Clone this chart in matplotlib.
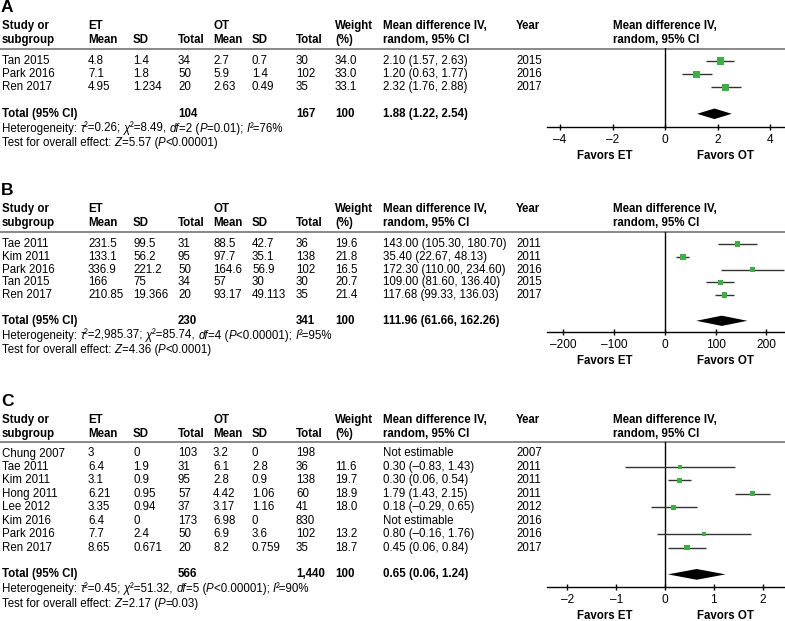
import numpy as np
import matplotlib
matplotlib.use("Agg")
import matplotlib.pyplot as plt

plt.rcParams["font.family"] = ["Liberation Sans", "DejaVu Sans"]

W, H = 785, 621
FS = 8.3
FS_B = 8.3
FS_TICK = 8.6
GREEN = "#3cb043"
DASH = "\u2013"

# ---- panel A ----
A_STUDY = ["Tan 2015", "Park 2016", "Ren 2017"]
A_ET_MEAN = ["4.8", "7.1", "4.95"]
A_ET_SD = ["1.4", "1.8", "1.234"]
A_ET_N = ["34", "50", "20"]
A_OT_MEAN = ["2.7", "5.9", "2.63"]
A_OT_SD = ["0.7", "1.4", "0.49"]
A_OT_N = ["30", "102", "35"]
A_WEIGHT = [34.0, 33.0, 33.1]
A_MD = [2.10, 1.20, 2.32]
A_LO = [1.57, 0.63, 1.76]
A_HI = [2.63, 1.77, 2.88]
A_YEAR = ["2015", "2016", "2017"]
A_TOTALS = ["104", "167", "100"]
A_POOLED = [1.88, 1.22, 2.54]
# *...* marks italic runs
A_HET = "Heterogeneity: *τ*²=0.26; *χ*²=8.49, *df*=2 (*P*=0.01); *I*²=76%"
A_TEST = "Test for overall effect: *Z*=5.57 (*P*<0.00001)"
A_TICKS = [-4, -2, 0, 2, 4]

# ---- panel B ----
B_STUDY = ["Tae 2011", "Kim 2011", "Park 2016", "Tan 2015", "Ren 2017"]
B_ET_MEAN = ["231.5", "133.1", "336.9", "166", "210.85"]
B_ET_SD = ["99.5", "56.2", "221.2", "75", "19.366"]
B_ET_N = ["31", "95", "50", "34", "20"]
B_OT_MEAN = ["88.5", "97.7", "164.6", "57", "93.17"]
B_OT_SD = ["42.7", "35.1", "56.9", "30", "49.113"]
B_OT_N = ["36", "138", "102", "30", "35"]
B_WEIGHT = [19.6, 21.8, 16.5, 20.7, 21.4]
B_MD = [143.00, 35.40, 172.30, 109.00, 117.68]
B_LO = [105.30, 22.67, 110.00, 81.60, 99.33]
B_HI = [180.70, 48.13, 234.60, 136.40, 136.03]
B_YEAR = ["2011", "2011", "2016", "2015", "2017"]
B_TOTALS = ["230", "341", "100"]
B_POOLED = [111.96, 61.66, 162.26]
B_HET = "Heterogeneity: *τ*²=2,985.37; *χ*²=85.74, *df*=4 (*P*<0.00001); *I*²=95%"
B_TEST = "Test for overall effect: *Z*=4.36 (*P*<0.0001)"
B_TICKS = [-200, -100, 0, 100, 200]

# ---- panel C ----
C_STUDY = ["Chung 2007", "Tae 2011", "Kim 2011", "Hong 2011", "Lee 2012",
           "Kim 2016", "Park 2016", "Ren 2017"]
C_ET_MEAN = ["3", "6.4", "3.1", "6.21", "3.35", "6.4", "7.7", "8.65"]
C_ET_SD = ["0", "1.9", "0.9", "0.95", "0.94", "0", "2.4", "0.671"]
C_ET_N = ["103", "31", "95", "57", "37", "173", "50", "20"]
C_OT_MEAN = ["3.2", "6.1", "2.8", "4.42", "3.17", "6.98", "6.9", "8.2"]
C_OT_SD = ["0", "2.8", "0.9", "1.06", "1.16", "0", "3.6", "0.759"]
C_OT_N = ["198", "36", "138", "60", "41", "830", "102", "35"]
C_WEIGHT = [np.nan, 11.6, 19.7, 18.9, 18.0, np.nan, 13.2, 18.7]
C_MD = [np.nan, 0.30, 0.30, 1.79, 0.18, np.nan, 0.80, 0.45]
C_LO = [np.nan, -0.83, 0.06, 1.43, -0.29, np.nan, -0.16, 0.06]
C_HI = [np.nan, 1.43, 0.54, 2.15, 0.65, np.nan, 1.76, 0.84]
C_YEAR = ["2007", "2011", "2011", "2011", "2012", "2016", "2016", "2017"]
C_TOTALS = ["566", "1,440", "100"]
C_POOLED = [0.65, 0.06, 1.24]
C_HET = "Heterogeneity: *τ*²=0.45; *χ*²=51.32, *df*=5 (*P*<0.00001); *I*²=90%"
C_TEST = "Test for overall effect: *Z*=2.17 (*P*=0.03)"
C_TICKS = [-2, -1, 0, 1, 2]

# column left edges (px)
COL_X = [2, 88, 133, 178, 213, 252, 296, 335, 383, 516]
FOREST_HDR_X = 613
FOREST_L, FOREST_R = 547, 785
HDR1 = ["Study or", "ET", "", "", "OT", "", "", "Weight", "Mean difference IV,", "Year"]
HDR2 = ["subgroup", "Mean", "SD", "Total", "Mean", "SD", "Total", "(%)", "random, 95% CI", ""]


def fmt(v):
    return f"{v:.2f}".replace("-", DASH)


def ci_text(m, lo, hi):
    if np.isnan(m):
        return "Not estimable"
    return f"{fmt(m)} ({fmt(lo)}, {fmt(hi)})"


fig = plt.figure(figsize=(W / 100, H / 100), dpi=100)
renderer = fig.canvas.get_renderer()
tx = fig.add_axes([0, 0, 1, 1])
tx.set_xlim(0, W)
tx.set_ylim(H, 0)
tx.axis("off")


def rich(x, y, s):
    # text with italic runs, drawn piece by piece (1 data unit == 1 px here)
    for k, part in enumerate(s.split("*")):
        if not part:
            continue
        t = tx.text(x, y, part, fontsize=FS, va="center",
                    style="italic" if k % 2 else "normal")
        x += t.get_window_extent(renderer).width


def panel(letter, lay, study, et_mean, et_sd, et_n, ot_mean, ot_sd, ot_n,
          weight, md, lo, hi, year, totals, pooled, het, test, ticks):
    line_y, row0, sp, axis_y, xlim = lay
    n = len(study)
    tx.text(1, line_y - 41, letter, fontsize=12.5, fontweight="bold", va="center")
    for x, h1, h2 in zip(COL_X, HDR1, HDR2):
        tx.text(x, line_y - 22.5, h1, fontsize=FS_B, fontweight="bold", va="center")
        tx.text(x, line_y - 8.5, h2, fontsize=FS_B, fontweight="bold", va="center")
    tx.text(FOREST_HDR_X, line_y - 22.5, "Mean difference IV,", fontsize=FS_B, fontweight="bold", va="center")
    tx.text(FOREST_HDR_X, line_y - 8.5, "random, 95% CI", fontsize=FS_B, fontweight="bold", va="center")
    tx.axhline(line_y, color="#7f7f7f", lw=1.3)

    for i in range(n):
        y = row0 + i * sp
        w = "" if np.isnan(weight[i]) else f"{weight[i]:.1f}"
        cells = [study[i], et_mean[i], et_sd[i], et_n[i], ot_mean[i], ot_sd[i], ot_n[i],
                 w, ci_text(md[i], lo[i], hi[i]), year[i]]
        for x, c in zip(COL_X, cells):
            tx.text(x, y, c, fontsize=FS, va="center")

    ty = row0 + (n + 1) * sp
    tx.text(COL_X[0], ty, "Total (95% CI)", fontsize=FS_B, fontweight="bold", va="center")
    tx.text(COL_X[3], ty, totals[0], fontsize=FS_B, fontweight="bold", va="center")
    tx.text(COL_X[6], ty, totals[1], fontsize=FS_B, fontweight="bold", va="center")
    tx.text(COL_X[7], ty, totals[2], fontsize=FS_B, fontweight="bold", va="center")
    tx.text(COL_X[8], ty, ci_text(*pooled), fontsize=FS_B, fontweight="bold", va="center")
    rich(COL_X[0], ty + 15, het)
    rich(COL_X[0], ty + 29.5, test)
    tx.text(605, axis_y + 29, "Favors ET", fontsize=FS_B, fontweight="bold", va="center", ha="center")
    tx.text(725, axis_y + 29, "Favors OT", fontsize=FS_B, fontweight="bold", va="center", ha="center")

    # forest
    ax = fig.add_axes([FOREST_L / W, 1 - axis_y / H, (FOREST_R - FOREST_L) / W, (axis_y - line_y) / H])
    ax.patch.set_alpha(0)
    for s in ["top", "left", "right"]:
        ax.spines[s].set_visible(False)
    ax.spines["bottom"].set_linewidth(1.0)
    ax.set_xlim(*xlim)
    ax.set_ylim((axis_y - row0) / sp, (line_y - row0) / sp)
    ax.set_yticks([])
    ax.set_xticks(ticks)
    ax.set_xticklabels([str(t).replace("-", DASH) for t in ticks])
    ax.tick_params(axis="x", direction="inout", length=5, width=1, labelsize=FS_TICK, pad=2.5)
    ax.axvline(0, color="black", lw=1.0)
    rows = np.arange(n)
    md = np.array(md, dtype=float)
    ok = ~np.isnan(md)
    ax.hlines(rows[ok], np.array(lo)[ok], np.array(hi)[ok], color="#333333", lw=1.0, zorder=2)
    ax.scatter(md[ok], rows[ok], marker="s", s=0.75 * np.array(weight)[ok],
               color=GREEN, zorder=3, linewidths=0)
    pm, plo, phi = pooled
    h = 0.4
    ax.fill([plo, pm, phi, pm], [n + 1, n + 1 - h, n + 1, n + 1 + h], color="black", lw=0, zorder=3)


panel("A", (48.5, 61.0, 13.2, 127.3, (-4.50, 4.57)),
      A_STUDY, A_ET_MEAN, A_ET_SD, A_ET_N, A_OT_MEAN, A_OT_SD, A_OT_N,
      A_WEIGHT, A_MD, A_LO, A_HI, A_YEAR, A_TOTALS, A_POOLED, A_HET, A_TEST, A_TICKS)
panel("B", (231.7, 244.0, 12.8, 332.0, (-232.5, 236.5)),
      B_STUDY, B_ET_MEAN, B_ET_SD, B_ET_N, B_OT_MEAN, B_OT_SD, B_OT_N,
      B_WEIGHT, B_MD, B_LO, B_HI, B_YEAR, B_TOTALS, B_POOLED, B_HET, B_TEST, B_TICKS)
panel("C", (442.3, 453.5, 13.43, 587.0, (-2.42, 2.46)),
      C_STUDY, C_ET_MEAN, C_ET_SD, C_ET_N, C_OT_MEAN, C_OT_SD, C_OT_N,
      C_WEIGHT, C_MD, C_LO, C_HI, C_YEAR, C_TOTALS, C_POOLED, C_HET, C_TEST, C_TICKS)

fig.savefig("out.png", dpi=100)
